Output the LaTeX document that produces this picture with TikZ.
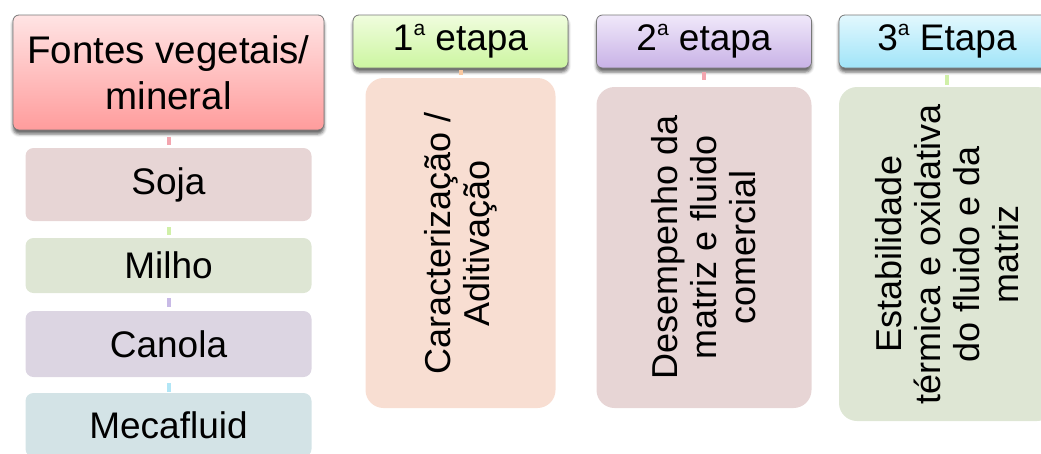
\documentclass[tikz,border=0pt]{standalone}
\usepackage{fontspec}
\setmainfont{Liberation Sans}
\usetikzlibrary{shadows.blur}
\definecolor{hdrline}{RGB}{120,120,120}
\definecolor{fTop}{RGB}{255,228,228}\definecolor{fBot}{RGB}{255,156,156}
\definecolor{gTop}{RGB}{240,253,222}\definecolor{gBot}{RGB}{204,245,160}
\definecolor{pTop}{RGB}{240,232,250}\definecolor{pBot}{RGB}{200,178,230}
\definecolor{cTop}{RGB}{226,248,254}\definecolor{cBot}{RGB}{160,228,248}
\definecolor{sojaC}{RGB}{231,213,213}
\definecolor{milhoC}{RGB}{222,230,212}
\definecolor{canolaC}{RGB}{220,213,226}
\definecolor{mecaC}{RGB}{211,227,230}
\definecolor{peachC}{RGB}{248,222,210}
\definecolor{dPink}{RGB}{243,165,175}
\definecolor{dGreen}{RGB}{208,240,168}
\definecolor{dPurple}{RGB}{200,186,230}
\definecolor{dCyan}{RGB}{178,230,246}
\definecolor{dOrange}{RGB}{250,200,160}
\newcommand\supa{\raisebox{15pt}{\fontsize{21}{21}\selectfont a}}
\begin{document}
\begin{tikzpicture}[x=1pt,y=-1pt,
  hdr/.style={draw=hdrline, line width=0.8pt, rounded corners=6pt,
    blur shadow={shadow xshift=0pt, shadow yshift=-4pt, shadow blur radius=3pt, shadow opacity=60},
    inner sep=0pt, align=center, font=\fontsize{37}{45}\selectfont},
  sub/.style={rounded corners=8pt, inner sep=0pt, align=center, minimum width=286pt,
    font=\fontsize{37}{40}\selectfont},
  tall/.style={rounded corners=18pt, inner sep=0pt, align=center, rotate=90,
    font=\fontsize{36}{39}\selectfont},
  link/.style={line width=4pt}]
\useasboundingbox (0,0) rectangle (1041,453);
\clip (0,0) rectangle (1041,453);
% headers
\node[hdr, top color=fTop, bottom color=fBot, minimum width=311pt, minimum height=115pt,
  font=\fontsize{38.5}{46}\selectfont]
  (fontes) at (168.5,72.5) {Fontes vegetais/\\mineral};
\node[hdr, top color=gTop, bottom color=gBot, minimum width=215pt, minimum height=53pt]
  (h1) at (460.5,41.5) {1\supa{} etapa};
\node[hdr, top color=pTop, bottom color=pBot, minimum width=215pt, minimum height=53pt]
  (h2) at (704,41.5) {2\supa{} etapa};
\node[hdr, top color=cTop, bottom color=cBot, minimum width=216pt, minimum height=53pt]
  (h3) at (947,41.5) {3\supa{} Etapa};
% left column
\node[sub, fill=sojaC, minimum height=73pt] (soja) at (168.5,184.5) {Soja};
\node[sub, fill=milhoC, minimum height=55pt] (milho) at (168.5,265.5) {Milho};
\node[sub, fill=canolaC, minimum height=66pt] (canola) at (168.5,344) {Canola};
\node[sub, fill=mecaC, minimum height=64pt] (meca) at (168.5,425) {Mecafluid};
% tall boxes
\node[tall, fill=peachC, minimum width=330pt, minimum height=190pt]
  (c1) at (460.5,243) {Caracterização /\\Aditivação};
\node[tall, fill=sojaC, minimum width=321pt, minimum height=215pt]
  (c2) at (704,247.5) {Desempenho da\\matriz e fluido\\comercial};
\node[tall, fill=milhoC, minimum width=334pt, minimum height=216pt]
  (c3) at (947,254) {Estabilidade\\térmica e oxidativa\\do fluido e da\\matriz};
% connectors
\draw[link, dPink, shorten <=7pt, shorten >=3pt] (fontes) -- (soja);
\draw[link, dGreen, shorten <=6pt, shorten >=3pt] (soja) -- (milho);
\draw[link, dPurple, shorten <=5pt, shorten >=4pt] (milho) -- (canola);
\draw[link, dCyan, shorten <=6pt, shorten >=1pt] (canola) -- (meca);
\draw[link, dOrange, shorten <=2pt, shorten >=3pt] (h1) -- (c1);
\draw[link, dPink, shorten <=4pt, shorten >=7pt] (h2) -- (c2);
\draw[link, dGreen, shorten <=7pt, shorten >=2pt] (h3) -- (c3);
\end{tikzpicture}
\end{document}
